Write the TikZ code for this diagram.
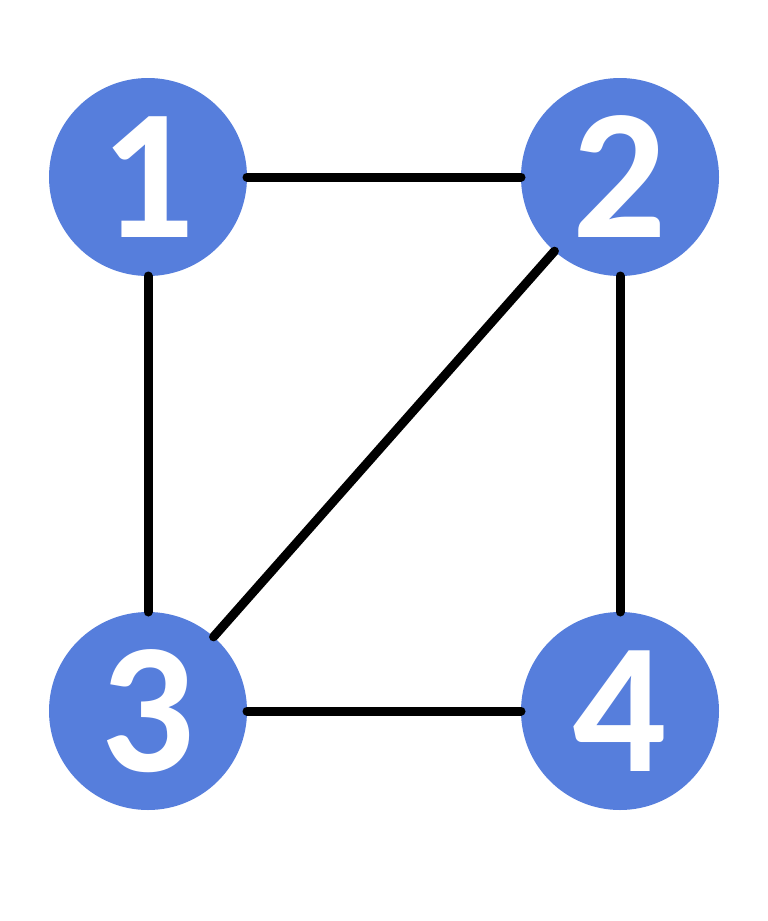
\documentclass[tikz,border=0pt]{standalone}
\usepackage{fontspec}
\setmainfont{Carlito}
\usepackage{tikz}

\definecolor{nodeblue}{HTML}{567EDC}

\tikzset{
  vertex/.style={circle, fill=nodeblue, minimum size=198pt, inner sep=0pt, outer sep=0pt,
    text=white, font=\fontsize{186}{186}\selectfont\bfseries},
  edge/.style={line width=9pt, line cap=round}
}

\begin{document}
\begin{tikzpicture}[x=1pt, y=-1pt]
          % page frame
          \useasboundingbox (0,0) rectangle (768,921);

          % vertices
          \node[vertex] (n1) at (148,177) {1};
          \node[vertex] (n2) at (620,177) {2};
          \node[vertex] (n3) at (148,711) {3};
          \node[vertex] (n4) at (620,711) {4};

          % edges
          \draw[edge] (n1) -- (n2);
          \draw[edge] (n1) -- (n3);
          \draw[edge] (n2) -- (n4);
          \draw[edge] (n3) -- (n4);
          \draw[edge] (n2) -- (n3);
        \end{tikzpicture}
\end{document}
